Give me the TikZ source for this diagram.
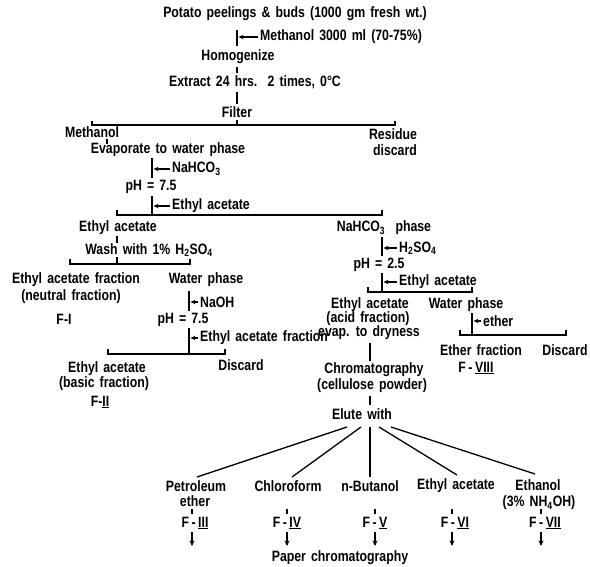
\documentclass[tikz,border=0pt]{standalone}
\usepackage{fontspec}
\setmainfont{Liberation Sans}[FakeStretch=0.82, WordSpace=1.5]
\usetikzlibrary{arrows.meta}
\begin{document}
\begin{tikzpicture}[x=1pt,y=-1pt,
  every node/.style={inner sep=0pt, font=\bfseries\fontsize{15}{16}\selectfont},
  ln/.style={line width=1.3pt},
  arr/.style={line width=1.1pt, -{Stealth[length=5pt,width=4.5pt]}, shorten >=1.5pt, shorten <=2pt},
  lbl/.style={anchor=west}]
\useasboundingbox (0,0) rectangle (590,567);
% ---------- top chain
\node (pot) at (295,14) {Potato peelings \& buds (1000 gm fresh wt.)};
\node[lbl] (meth) at (260,37) {Methanol 3000 ml (70-75\%)};
\node (hom) at (238,57) {Homogenize};
\node (ext) at (255,82) {Extract 24 hrs.\ \ 2 times, 0°C};
\node (fil) at (237,112) {Filter};
\coordinate (s0a) at (237,30);
\coordinate (s0b) at (237,46);
\coordinate (s0c) at (237,67);
\coordinate (s0d) at (237,73);
\coordinate (s0e) at (237,92);
\coordinate (s0f) at (237,104);
\coordinate (s0g) at (237,120);
\coordinate (hA1) at (92,125);
\coordinate (hA2) at (395,125);
\draw[ln] (s0a) -- (s0b);
\draw[arr] (meth.west) -- (meth.west -| s0a);
\draw[ln] (s0c) -- (s0d);
\draw[ln] (s0e) -- (s0f);
\draw[ln] (s0g) -- (s0g |- hA1);
\draw[ln] ([yshift=4pt]hA1) -- (hA1) -- (hA2) -- ([yshift=4pt]hA2);
% ---------- methanol branch
\node (methL) at (92,132) {Methanol};
\node (res) at (393,134) {Residue};
\node (disc1) at (395,150) {discard};
\node (evap) at (168,150) {Evaporate to water phase};
\coordinate (tA) at (107,139);
\coordinate (tB) at (107,144);
\draw[ln] (tA) -- (tB);
\coordinate (s1a) at (152,158);
\coordinate (s1b) at (152,178);
\node[lbl] (nahco) at (172,169) {NaHCO\textsubscript{3}};
\draw[ln] (s1a) -- (s1b);
\draw[arr] (nahco.west) -- (nahco.west -| s1a);
\node (ph1) at (151,187) {pH = 7.5};
\coordinate (s1c) at (152,196);
\coordinate (hB1) at (117,215);
\coordinate (hB2) at (382,215);
\node[lbl] (ea1) at (172,206) {Ethyl acetate};
\draw[ln] (s1c) -- (s1c |- hB1);
\draw[arr] (ea1.west) -- (ea1.west -| s1c);
\draw[ln] ([yshift=5pt]hB1) -- (hB1) -- (hB2) -- ([yshift=5pt]hB2);
% ---------- ethyl acetate (left)
\node (ethL) at (118,228) {Ethyl acetate};
\node (wash) at (149,250) {Wash with 1\% H\textsubscript{2}SO\textsubscript{4}};
\coordinate (tC) at (117,236);
\coordinate (tD) at (117,243);
\draw[ln] (tC) -- (tD);
\coordinate (s2a) at (117,257);
\coordinate (hC1) at (70,264);
\coordinate (hC2) at (190,264);
\draw[ln] (s2a) -- (s2a |- hC1);
\draw[ln] ([yshift=5pt]hC1) -- (hC1) -- (hC2) -- ([yshift=5pt]hC2);
\node (eaf) at (76,280) {Ethyl acetate fraction};
\node (neu) at (71,297) {(neutral fraction)};
\node (f1) at (64,319) {F-I};
\node (wp1) at (206,280) {Water phase};
\coordinate (s3a) at (189,291);
\coordinate (s3b) at (189,311);
\node[lbl] (naoh) at (200,302) {NaOH};
\draw[ln] (s3a) -- (s3b);
\draw[arr] (naoh.west) -- (naoh.west -| s3a);
\node (ph2) at (183,320) {pH = 7.5};
\coordinate (s3c) at (189,328);
\coordinate (hD1) at (108,354);
\coordinate (hD2) at (225,354);
\node[lbl] (eaf2) at (200,338) {Ethyl acetate fraction};
\draw[ln] (s3c) -- (s3c |- hD1);
\draw[arr] (eaf2.west) -- (eaf2.west -| s3c);
\draw[ln] ([yshift=5pt]hD1) -- (hD1) -- (hD2) -- ([yshift=5pt]hD2);
\node (eab) at (107,369) {Ethyl acetate};
\node (bas) at (104,384) {(basic fraction)};
\node (f2) at (100,402) {F-\underline{II}};
\node (disc2) at (241,365) {Discard};
% ---------- NaHCO3 phase (right)
\node (nph) at (384,228) {NaHCO\textsubscript{3}\ \ phase};
\coordinate (s4a) at (382,237);
\coordinate (s4b) at (382,256);
\node[lbl] (h2so) at (399,248) {H\textsubscript{2}SO\textsubscript{4}};
\draw[ln] (s4a) -- (s4b);
\draw[arr] (h2so.west) -- (h2so.west -| s4a);
\node (ph3) at (379,265) {pH = 2.5};
\coordinate (s4c) at (382,273);
\coordinate (hE1) at (368,292);
\coordinate (hE2) at (472,292);
\node[lbl] (ea3) at (399,282) {Ethyl acetate};
\draw[ln] (s4c) -- (s4c |- hE1);
\draw[arr] (ea3.west) -- (ea3.west -| s4c);
\draw[ln] ([yshift=5pt]hE1) -- (hE1) -- (hE2) -- ([yshift=5pt]hE2);
\node (eac) at (370,305) {Ethyl acetate};
\node (acid) at (368,319) {(acid fraction)};
\node (evd) at (369,333) {evap. to dryness};
\node (chr) at (374,370) {Chromatography};
\node (cel) at (372,386) {(cellulose powder)};
\node (elu) at (362,414) {Elute with};
\coordinate (s5a) at (370,343);
\coordinate (s5b) at (370,361);
\coordinate (s5c) at (370,396);
\coordinate (s5d) at (370,405);
\draw[ln] (s5a) -- (s5b);
\draw[ln] (s5c) -- (s5d);
% ---------- water phase (right)
\node (wp2) at (466,305) {Water phase};
\coordinate (s6a) at (472,313);
\coordinate (hF1) at (460,335);
\coordinate (hF2) at (566,335);
\node[lbl] (eth) at (483,321) {ether};
\draw[ln] (s6a) -- (s6a |- hF1);
\draw[arr] (eth.west) -- (eth.west -| s6a);
\draw[ln] ([yshift=5pt]hF1) -- (hF1) -- (hF2) -- ([yshift=5pt]hF2);
\node (etf) at (481,350) {Ether fraction};
\node (disc3) at (565,350) {Discard};
\node (f8) at (476,368) {F\,-\,\underline{VIII}};
% ---------- fan
\node (pet) at (196,486) {Petroleum};
\node (pet2) at (195,501) {ether};
\node (chl) at (288,486) {Chloroform};
\node (but) at (370,486) {n-Butanol};
\node (eta) at (456,486) {Ethyl acetate};
\node (etn) at (538,485) {Ethanol};
\node (nh) at (539,503) {(3\% NH\textsubscript{4}OH)};
\coordinate (fa1) at (347,427);
\coordinate (fa2) at (361,427);
\coordinate (fa3) at (370,427);
\coordinate (fa4) at (379,427);
\coordinate (fa5) at (391,427);
\coordinate (fb1) at (197,477);
\coordinate (fb2) at (292,477);
\coordinate (fb3) at (370,477);
\coordinate (fb4) at (457,475);
\coordinate (fb5) at (535,474);
\draw[ln] (fa1) -- (fb1);
\draw[ln] (fa2) -- (fb2);
\draw[ln] (fa3) -- (fb3);
\draw[ln] (fa4) -- (fb4);
\draw[ln] (fa5) -- (fb5);
% ---------- F labels and arrows
\node (f3) at (195,523) {F\,-\,\underline{III}};
\node (f4) at (287,523) {F\,-\,\underline{IV}};
\node (f5) at (375,523) {F\,-\,\underline{V}};
\node (f6) at (455,523) {F\,-\,\underline{VI}};
\node (f7) at (545,523) {F\,-\,\underline{VII}};
\foreach \n/\x in {f3/192,f4/287,f5/375,f6/452,f7/541}{
  \draw[ln] (\x,509) -- (\x,514);
  \draw[line width=1.3pt, -{Stealth[length=5.5pt,width=5pt]}] (\x,532) -- (\x,546);
}
\node (paper) at (340,558) {Paper chromatography};
\end{tikzpicture}
\end{document}
